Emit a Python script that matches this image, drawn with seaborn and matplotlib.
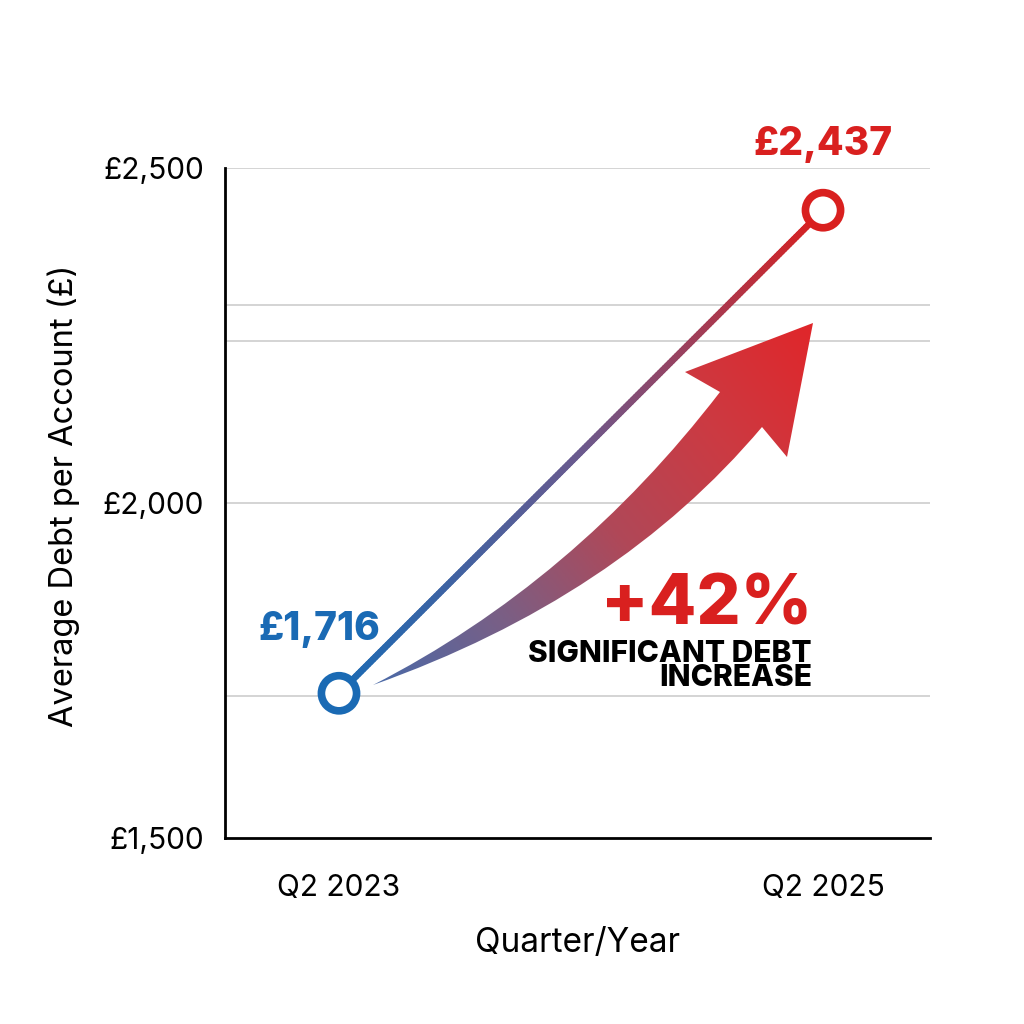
import numpy as np
import pandas as pd
import matplotlib
matplotlib.use("Agg")
import matplotlib.pyplot as plt
import seaborn as sns
from matplotlib.collections import LineCollection
from matplotlib.colors import LinearSegmentedColormap
from matplotlib.path import Path
from matplotlib.patches import PathPatch

quarters = ["Q2 2023", "Q2 2025"]
avg_debt = [1716, 2437]
value_labels = ["£1,716", "£2,437"]
change_label = "+42%"
change_note = "SIGNIFICANT DEBT\nINCREASE"
y_ticks = [1500, 2000, 2500]
y_tick_labels = ["£1,500", "£2,000", "£2,500"]
grid_levels = [2500, 2295, 2242, 2000, 1712]

blue = "#1a6ab4"
red = "#d9201f"

df = pd.DataFrame({"quarter": quarters, "debt": avg_debt, "pos": [0, 1]})

sns.set_theme(style="white")
plt.rcParams["font.family"] = ["Inter", "DejaVu Sans"]
plt.rcParams["text.color"] = "black"

fig = plt.figure(figsize=(10.24, 10.24), dpi=100)
ax = fig.add_axes([225 / 1024, 1 - 838 / 1024, 705 / 1024, 670 / 1024])
ax.set_xlim(-0.2355, 1.221)
ax.set_ylim(1500, 2500)

for g in grid_levels:
    ax.axhline(g, color="#c9c9c9", lw=1.1, zorder=0)

cmap = LinearSegmentedColormap.from_list("br", [blue, "#6a5a8e", red])

# gradient line between the two points
t = np.linspace(0, 1, 200)
xs = df["pos"][0] + t * (df["pos"][1] - df["pos"][0])
ys = df["debt"][0] + t * (df["debt"][1] - df["debt"][0])
pts = np.column_stack([xs, ys]).reshape(-1, 1, 2)
segs = np.concatenate([pts[:-1], pts[1:]], axis=1)
lc = LineCollection(segs, cmap=cmap, linewidth=4.8, capstyle="round", zorder=3)
lc.set_array(t[:-1])
ax.add_collection(lc)

sns.scatterplot(data=df, x="pos", y="debt", hue="quarter", palette=[blue, red],
                s=640, linewidth=5.5, legend=False, ax=ax,
                zorder=4, clip_on=False)
ax.collections[-1].set_facecolor("white")
ax.collections[-1].set_edgecolors([blue, red])

# curved gradient arrow (shape in pixel space of the axes)
def px(x, y):
    return ((x - 225) / 705, (838 - y) / 670)

verts = [px(373, 685), px(574, 582), px(720, 392),
         px(685, 372), px(813, 323), px(787, 457), px(762, 427),
         px(618, 598), px(373, 685), px(373, 685)]
codes = [Path.MOVETO, Path.CURVE3, Path.CURVE3,
         Path.LINETO, Path.LINETO, Path.LINETO, Path.LINETO,
         Path.CURVE3, Path.CURVE3, Path.CLOSEPOLY]
patch = PathPatch(Path(verts, codes), transform=ax.transAxes, facecolor="none",
                  edgecolor="none")
ax.add_patch(patch)

gx, gy = np.meshgrid(np.linspace(365, 820, 300), np.linspace(320, 695, 300))
d = np.array([813 - 373, 323 - 685], dtype=float)
proj = ((gx - 373) * d[0] + (gy - 685) * d[1]) / (d @ d)
proj = np.clip(proj, 0, 1)
arrow_cmap = LinearSegmentedColormap.from_list(
    "ar", ["#4a6aa8", "#7a5f85", "#b04858", "#cc3a42", "#e0262a"])
im = ax.imshow(proj, cmap=arrow_cmap, vmin=0, vmax=1,
               extent=[px(365, 0)[0], px(820, 0)[0], px(0, 695)[1], px(0, 320)[1]],
               transform=ax.transAxes, aspect="auto", zorder=2, origin="upper")
im.set_clip_path(patch)

ax.text(df["pos"][0] - 0.04, df["debt"][0] + 95, value_labels[0], color=blue,
        fontsize=28, fontweight="heavy", ha="center", va="center")
ax.text(df["pos"][1], df["debt"][1] + 98, value_labels[1], color=red,
        fontsize=28, fontweight="heavy", ha="center", va="center", clip_on=False)
ax.text(*px(812, 606), change_label, transform=ax.transAxes, color=red,
        fontsize=50, fontweight="heavy", ha="right", va="center")
ax.text(*px(812, 666), change_note, transform=ax.transAxes, color="black",
        fontsize=21.5, fontweight="heavy", ha="right", va="center",
        linespacing=0.85)

ax.set_xticks([0, 1])
ax.set_xticklabels(quarters, fontsize=21.5, color="black")
ax.set_yticks(y_ticks)
ax.set_yticklabels(y_tick_labels, fontsize=21.5, color="black")
ax.tick_params(axis="x", pad=26, length=0)
ax.tick_params(axis="y", pad=15, length=0)
ax.set_xlabel("Quarter/Year", fontsize=24, labelpad=18, color="black")
ax.set_ylabel("Average Debt per Account (£)", fontsize=23.5, color="black")
ax.yaxis.set_label_coords(-0.206, 0.51)

for s in ["top", "right"]:
    ax.spines[s].set_visible(False)
for s in ["left", "bottom"]:
    ax.spines[s].set_color("black")
    ax.spines[s].set_linewidth(2)

fig.savefig("out.png", dpi=100, facecolor="white")
